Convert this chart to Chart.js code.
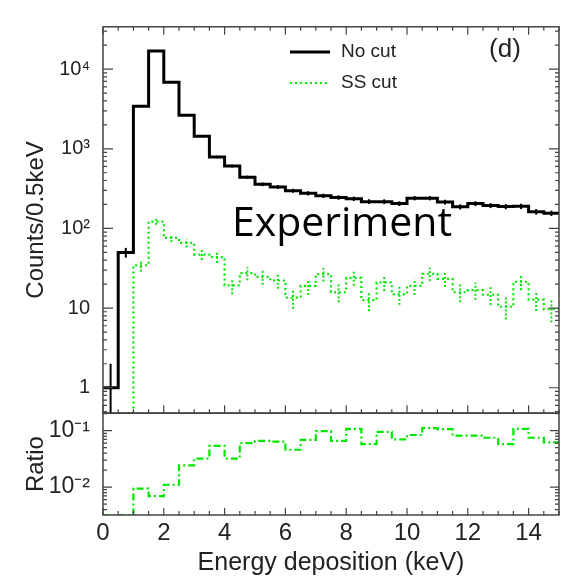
<!DOCTYPE html>
<html>
<head>
<meta charset="utf-8">
<script src="https://cdn.jsdelivr.net/npm/chart.js@4.4.0/dist/chart.umd.min.js"></script>
<style>
  html, body { margin: 0; padding: 0; background: #fff; }
  #wrap { width: 571px; height: 578px; }
</style>
</head>
<body>
<div id="wrap"><canvas id="canvas" width="571" height="578"></canvas></div>
<script>
// 0.5 keV bins, lower edges
const binLow = [0, 0.5, 1, 1.5, 2, 2.5, 3, 3.5, 4, 4.5, 5, 5.5, 6, 6.5, 7, 7.5,
                8, 8.5, 9, 9.5, 10, 10.5, 11, 11.5, 12, 12.5, 13, 13.5, 14, 14.5];
const X_MAX = 15;

// counts per bin
const noCut = [1, 50, 3430, 16950, 6850, 2630, 1435, 787, 607, 440, 358, 332, 298, 276, 257,
               245, 236, 217, 217, 205, 240, 240, 215, 187, 205, 194, 188, 190, 162, 155];
const noCutErr = [1, 7, 59, 130, 83, 51, 38, 28, 25, 21, 19, 18, 17, 17, 16,
                  16, 15, 15, 15, 14, 15, 15, 15, 14, 14, 14, 14, 14, 13, 12];
const ssCut = [0, 0, 34.5, 122, 76, 66, 47, 43.6, 19.3, 27.5, 24.6, 22.2, 13.5, 19, 26.7,
               15.8, 24, 12.6, 21, 14.9, 19, 27, 23.3, 15.8, 16.8, 14.7, 10.4, 21.4, 12.8, 9.7];
const ssErr = [0, 0, 5.9, 11, 8.7, 8.1, 6.9, 6.6, 4.4, 5.2, 5, 4.7, 3.7, 4.4, 5.2,
               4, 4.9, 3.5, 4.6, 3.9, 4.4, 5.2, 4.8, 4, 4.1, 3.8, 3.2, 4.6, 3.6, 3.1];
const ratio = [0, 0, 0.0094, 0.0069, 0.011, 0.0243, 0.032, 0.054, 0.032, 0.060, 0.066, 0.064, 0.046, 0.069, 0.098,
               0.066, 0.108, 0.058, 0.095, 0.070, 0.084, 0.111, 0.107, 0.082, 0.082, 0.075, 0.058, 0.108, 0.075, 0.062];

const xTicks = [0, 2, 4, 6, 8, 10, 12, 14];
const countTicks = [1, 10, 100, 1000, 10000];
const countLabels = ['1', '10', '10\u00B2', '10\u00B3', '10\u2074'];
const ratioTicks = [0.01, 0.1];
const ratioLabels = ['10\u207B\u00B2', '10\u207B\u00B9'];

const Y_MIN = 0.48, Y_MAX = 3.4e4;
const R_MIN = 0.0032, R_MAX = 0.205;
const GREEN = '#00e600';
const FONT = '"Liberation Sans", Arial, sans-serif';

function steps(vals, floor) {
  const pts = binLow.map((lo, i) => ({ x: lo, y: vals[i] > 0 ? vals[i] : floor }));
  pts.push({ x: X_MAX, y: pts[pts.length - 1].y });
  return pts;
}

function minorValues(lo, hi) {
  const out = [];
  for (let d = Math.pow(10, Math.floor(Math.log10(lo))); d <= hi; d *= 10) {
    for (let m = 1; m <= 9; m++) {
      const v = m * d;
      if (v >= lo && v <= hi) out.push(v);
    }
  }
  return out;
}

function drawErrors(ctx, x, s, vals, errs, color, width, dash) {
  ctx.strokeStyle = color;
  ctx.lineWidth = width;
  ctx.setLineDash(dash);
  vals.forEach((v, i) => {
    if (!(v > 0) || !errs[i]) return;
    const px = x.getPixelForValue(binLow[i] + 0.25);
    const lo = v - errs[i] > s.min ? s.getPixelForValue(v - errs[i]) : s.bottom;
    const hi = Math.max(s.getPixelForValue(v + errs[i]), s.top);
    ctx.beginPath();
    ctx.moveTo(px, lo);
    ctx.lineTo(px, hi);
    ctx.stroke();
  });
  ctx.setLineDash([]);
}

function frame(ctx, area, x, s, major, minor, topTicks) {
  ctx.strokeStyle = '#444';
  ctx.lineWidth = 1.5;
  ctx.strokeRect(area.left, s.top, area.right - area.left, s.bottom - s.top);
  ctx.lineWidth = 1.2;
  ctx.beginPath();
  for (let v = 0; v <= X_MAX; v += 0.5) {
    const px = x.getPixelForValue(v);
    const len = v % 2 === 0 ? major : minor;
    ctx.moveTo(px, s.bottom); ctx.lineTo(px, s.bottom - len);
    if (topTicks) { ctx.moveTo(px, s.top); ctx.lineTo(px, s.top + len); }
  }
  minorValues(s.min, s.max).forEach(v => {
    const py = s.getPixelForValue(v);
    const dec = Math.abs(Math.log10(v) - Math.round(Math.log10(v))) < 1e-6;
    const len = dec ? major + 2 : minor;
    ctx.moveTo(area.left, py); ctx.lineTo(area.left + len, py);
    ctx.moveTo(area.right, py); ctx.lineTo(area.right - len, py);
  });
  ctx.stroke();
}

const rootLook = {
  id: 'rootLook',
  afterDatasetsDraw(chart) {
    const ctx = chart.ctx, area = chart.chartArea;
    const x = chart.scales.x, y = chart.scales.y, yr = chart.scales.yr;
    ctx.save();
    drawErrors(ctx, x, y, noCut, noCutErr, '#000', 2, []);
    drawErrors(ctx, x, y, ssCut, ssErr, GREEN, 2, [2, 2]);
    frame(ctx, area, x, y, 8, 4, true);
    frame(ctx, area, x, yr, 7, 4, false);

    // legend
    ctx.lineWidth = 3;
    ctx.strokeStyle = '#000';
    ctx.beginPath(); ctx.moveTo(290, 52); ctx.lineTo(330, 52); ctx.stroke();
    ctx.lineWidth = 2.2;
    ctx.strokeStyle = GREEN;
    ctx.setLineDash([2, 3]);
    ctx.beginPath(); ctx.moveTo(290, 83); ctx.lineTo(330, 83); ctx.stroke();
    ctx.setLineDash([]);
    ctx.fillStyle = '#222';
    ctx.font = '19px ' + FONT;
    ctx.textBaseline = 'middle';
    ctx.textAlign = 'left';
    ctx.fillText('No cut', 341, 52);
    ctx.fillText('SS cut', 341, 83);

    ctx.font = '26px ' + FONT;
    ctx.textAlign = 'center';
    ctx.fillText('(d)', 505, 50);

    ctx.fillStyle = '#000';
    ctx.font = '41px "Open Sans", sans-serif';
    ctx.fillText('Experiment', 342, 224);
    ctx.restore();
  }
};

const ctx = document.getElementById('canvas').getContext('2d');
new Chart(ctx, {
  type: 'line',
  data: {
    datasets: [{
      label: 'No cut',
      data: steps(noCut, Y_MIN),
      yAxisID: 'y',
      borderColor: '#000',
      borderWidth: 3,
      stepped: 'before',
      pointRadius: 0,
      fill: false
    }, {
      label: 'SS cut',
      data: steps(ssCut, Y_MIN),
      yAxisID: 'y',
      borderColor: GREEN,
      borderWidth: 2.2,
      borderDash: [2, 3],
      stepped: 'before',
      pointRadius: 0,
      fill: false
    }, {
      label: 'Ratio',
      data: steps(ratio, R_MIN),
      yAxisID: 'yr',
      borderColor: GREEN,
      borderWidth: 2.2,
      borderDash: [7, 3, 2, 3],
      stepped: 'before',
      pointRadius: 0,
      fill: false
    }]
  },
  options: {
    responsive: false,
    animation: false,
    devicePixelRatio: 1,
    layout: { padding: { top: 7, right: 12, left: 0, bottom: 0 } },
    plugins: { legend: { display: false }, tooltip: { enabled: false } },
    scales: {
      x: {
        type: 'linear',
        min: 0,
        max: X_MAX,
        grid: { display: false, drawTicks: false },
        border: { display: false },
        afterBuildTicks: s => { s.ticks = xTicks.map(v => ({ value: v })); },
        afterFit: s => { s.height = 63; },
        ticks: { color: '#222', font: { family: FONT, size: 24 }, padding: 4, maxRotation: 0 },
        title: { display: true, text: 'Energy deposition (keV)', color: '#222',
                 font: { family: FONT, size: 25 }, padding: { top: 0, bottom: 0 } }
      },
      // ratio panel first: stacked boxes are laid out bottom-up
      yr: {
        type: 'logarithmic',
        position: 'left',
        stack: 'panels',
        stackWeight: 106,
        min: R_MIN,
        max: R_MAX,
        grid: { display: false, drawTicks: false },
        border: { display: false },
        afterBuildTicks: s => { s.ticks = ratioTicks.map(v => ({ value: v })); },
        afterFit: s => { s.width = 103; },
        ticks: {
          color: '#222',
          font: { family: FONT, size: 23 },
          padding: 13,
          callback: v => ratioLabels[ratioTicks.indexOf(v)]
        },
        title: { display: true, text: 'Ratio', color: '#222',
                 font: { family: FONT, size: 24 }, padding: { top: 22, bottom: 0 } }
      },
      y: {
        type: 'logarithmic',
        position: 'left',
        stack: 'panels',
        stackWeight: 402,
        min: Y_MIN,
        max: Y_MAX,
        grid: { display: false, drawTicks: false },
        border: { display: false },
        afterBuildTicks: s => { s.ticks = countTicks.map(v => ({ value: v })); },
        afterFit: s => { s.width = 103; },
        ticks: {
          color: '#222',
          font: { family: FONT, size: 20 },
          padding: 13,
          callback: v => countLabels[countTicks.indexOf(v)]
        },
        title: { display: true, text: 'Counts/0.5keV', color: '#222',
                 font: { family: FONT, size: 24 }, padding: { top: 22, bottom: 0 } }
      }
    }
  },
  plugins: [rootLook]
});
</script>
</body>
</html>
